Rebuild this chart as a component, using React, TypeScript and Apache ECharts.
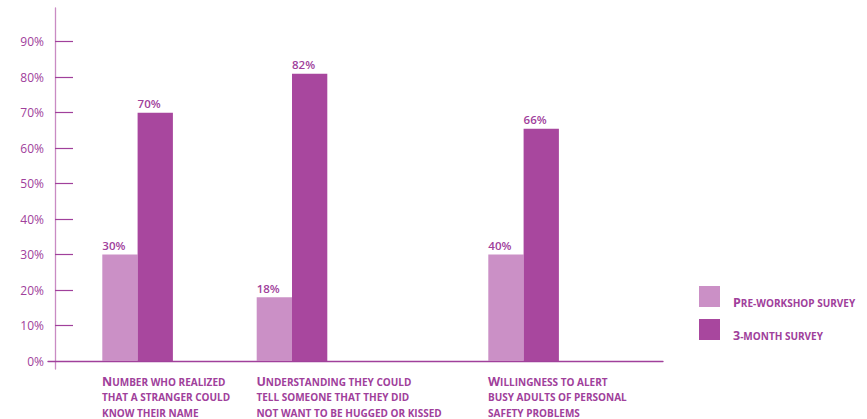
import React, { useEffect, useRef } from 'react';
import * as echarts from 'echarts';

// ---- data ----
const categories = [
  'Number who realized\nthat a stranger could\nknow their name',
  'Understanding they could\ntell someone that they did\nnot want to be hugged or kissed',
  'Willingness to alert\nbusy adults of personal\nsafety problems',
];
const seriesNames = ['Pre-workshop survey', '3-month survey'];
const preValues = [30, 18, 30];
const preLabels = ['30%', '18%', '40%'];
const postValues = [70, 81, 65.5];
const postLabels = ['70%', '82%', '66%'];
const yTickValues = [0, 10, 20, 30, 40, 50, 60, 70, 80, 90];

// ---- layout (category slots on the x axis) ----
const slotOf = [0, 2, 5];
const slotCount = 7;

const TEXT = '#a0409b';
const PINK = '#cb90c6';
const PURPLE = '#a8479e';
const AXIS_PINK = '#c98bc3';
const FONT = 'Open Sans';

function smallCaps(str: string): string {
  return str
    .split('\n')
    .map((line) => {
      let out = '';
      let cur = '';
      let curStyle = '';
      for (const ch of line) {
        const big = /[A-Z0-9]/.test(ch);
        const st = big ? 'b' : 's';
        if (st !== curStyle && cur) {
          out += `{${curStyle}|${cur}}`;
          cur = '';
        }
        curStyle = st;
        cur += big ? ch : ch.toUpperCase();
      }
      if (cur) out += `{${curStyle}|${cur}}`;
      return out;
    })
    .join('\n');
}

const rich = {
  b: { fontFamily: FONT, fontWeight: 700, fontSize: 12.5, color: TEXT, lineHeight: 15.5 },
  s: { fontFamily: FONT, fontWeight: 700, fontSize: 10, color: TEXT, lineHeight: 15.5 },
};

function slotted<T>(arr: T[]): (T | string)[] {
  const out: (T | string)[] = Array(slotCount).fill('-');
  arr.forEach((v, i) => (out[slotOf[i]] = v));
  return out;
}

export default function App() {
  const ref = useRef<HTMLDivElement>(null);
  useEffect(() => {
    document.body.style.margin = '0';
    if (!ref.current) return;
    const chart = echarts.init(ref.current, undefined, { renderer: 'svg' });
    const slotLabels = Array(slotCount).fill('') as string[];
    categories.forEach((c, i) => (slotLabels[slotOf[i]] = c));
    const blankCats = Array(slotCount).fill('') as string[];

    const barLabel = (labels: string[]) => ({
      show: true,
      position: [0, -9],
      align: 'left',
      verticalAlign: 'middle',
      fontFamily: FONT,
      fontWeight: 600,
      fontSize: 11.5,
      color: TEXT,
      formatter: (p: any) => labels[slotOf.indexOf(p.dataIndex)],
    });

    chart.setOption({
      animation: false,
      grid: [
        { left: 48, right: 204, top: 8, bottom: 58 },
        { left: 55, width: 10, top: 8, bottom: 50 },
        { left: 99, width: 540.4, top: 8, bottom: 50 },
        { left: 63.4, width: 540.4, top: 8, bottom: 58 },
      ],
      xAxis: [
        {
          gridIndex: 0,
          type: 'category',
          data: [''],
          axisLine: { show: true, lineStyle: { color: TEXT, width: 1.3 } },
          axisTick: { show: false },
          axisLabel: { show: false },
        },
        { gridIndex: 1, type: 'category', data: [''], show: false },
        { gridIndex: 2, type: 'category', data: blankCats, show: false },
        {
          gridIndex: 3,
          type: 'category',
          data: slotLabels,
          axisLine: { show: false },
          axisTick: { show: false },
          axisLabel: {
            interval: 0,
            align: 'left',
            verticalAlign: 'top',
            margin: 13,
            formatter: (v: string) => (v ? smallCaps(v) : ''),
            rich,
          },
        },
      ],
      yAxis: [
        { gridIndex: 0, type: 'value', min: 0, max: 1, show: false },
        {
          gridIndex: 1,
          type: 'value',
          min: -2.25,
          max: 99.5,
          axisLine: { show: true, lineStyle: { color: AXIS_PINK, width: 1.3 } },
          axisTick: {
            show: true,
            inside: true,
            length: 18,
            lineStyle: { color: TEXT, width: 1.2 },
            customValues: yTickValues.filter((v) => v > 0),
          },
          axisLabel: {
            customValues: yTickValues,
            formatter: (v: number) => `${v}%`,
            color: TEXT,
            fontFamily: FONT,
            fontSize: 12,
            margin: 11,
          },
          splitLine: { show: false },
        },
        { gridIndex: 2, type: 'value', min: -2.25, max: 99.5, show: false },
        { gridIndex: 3, type: 'value', min: 0, max: 1, show: false },
      ],
      legend: {
        data: seriesNames,
        orient: 'vertical',
        left: 694,
        top: 281,
        itemWidth: 21,
        itemHeight: 21,
        itemGap: 10,
        icon: 'rect',
        formatter: (n: string) => smallCaps(n),
        textStyle: { rich, padding: [12, 0, 0, 8] },
      },
      series: [
        {
          name: seriesNames[0],
          type: 'bar',
          xAxisIndex: 2,
          yAxisIndex: 2,
          data: slotted(preValues),
          barWidth: 35.3,
          barGap: '0%',
          itemStyle: { color: PINK },
          label: barLabel(preLabels),
        },
        {
          name: seriesNames[1],
          type: 'bar',
          xAxisIndex: 2,
          yAxisIndex: 2,
          data: slotted(postValues),
          barWidth: 35.3,
          barGap: '0%',
          itemStyle: { color: PURPLE },
          label: barLabel(postLabels),
        },
      ],
    });
    return () => chart.dispose();
  }, []);
  return <div ref={ref} style={{ width: 867, height: 419 }} />;
}
